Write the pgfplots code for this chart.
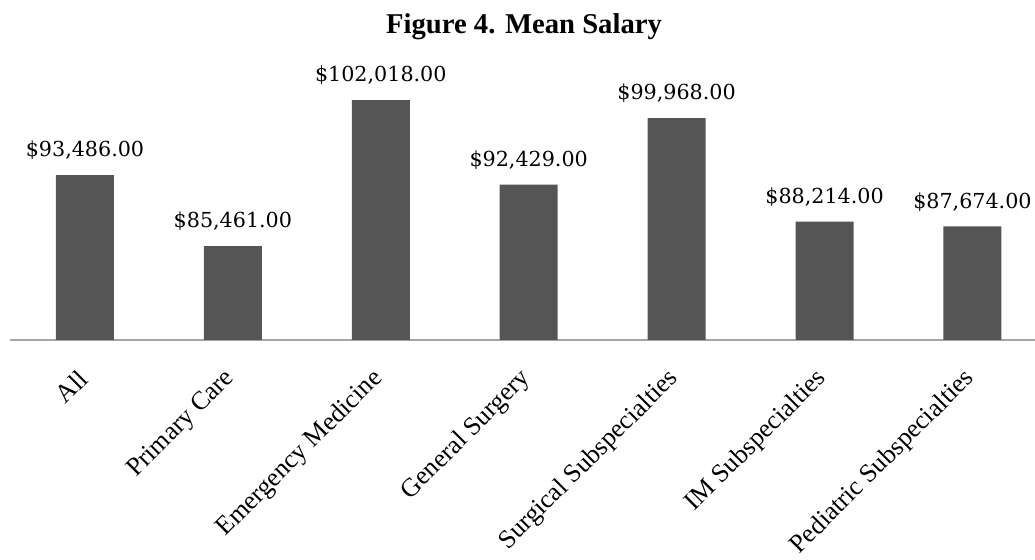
\documentclass[border=0pt]{standalone}
\usepackage{pgfplots}
\pgfplotsset{compat=1.18}
\usepackage{fontspec}
\setmainfont{Liberation Serif}
\newfontfamily\valfont{DejaVu Serif}
\definecolor{barfill}{RGB}{85,85,85}
\definecolor{axgray}{RGB}{165,165,165}
\begin{document}
\begin{tikzpicture}
\useasboundingbox (0,0) rectangle (776.25pt,420pt);
\node[font=\bfseries\fontsize{21.5}{23}\selectfont] at (393pt,400pt) {Figure 4. Mean Salary};
\begin{axis}[
  at={(7.5pt,165pt)}, anchor=south west,
  scale only axis, width=768.75pt, height=199.7pt,
  xmin=-0.507, xmax=6.423, ymin=74800, ymax=105000,
  hide y axis,
  axis x line*=bottom,
  x axis line style={draw=axgray, line width=1.1pt, -},
  xtick={0,1,2,3,4,5,6},
  xtick style={draw=none},
  xticklabels={All, Primary Care, Emergency Medicine, General Surgery, Surgical Subspecialties, IM Subspecialties, Pediatric Subspecialties},
  xticklabel style={font=\fontsize{19.5}{21}\selectfont, anchor=east, xshift=1pt, yshift=-19.5pt, rotate=45},
  clip=false,
  ybar, bar width=43.5pt,
  point meta=explicit symbolic,
  nodes near coords,
  every node near coord/.append style={font=\valfont\fontsize{15.5}{18}\selectfont, yshift=8pt},
]
\addplot[fill=barfill, draw=none] coordinates {
  (0,93486) [\$93,486.00]
  (1,85461) [\$85,461.00]
  (2,102018) [\$102,018.00]
  (3,92429) [\$92,429.00]
  (4,99968) [\$99,968.00]
  (5,88214) [\$88,214.00]
  (6,87674) [\$87,674.00]
};
\end{axis}
\end{tikzpicture}
\end{document}
